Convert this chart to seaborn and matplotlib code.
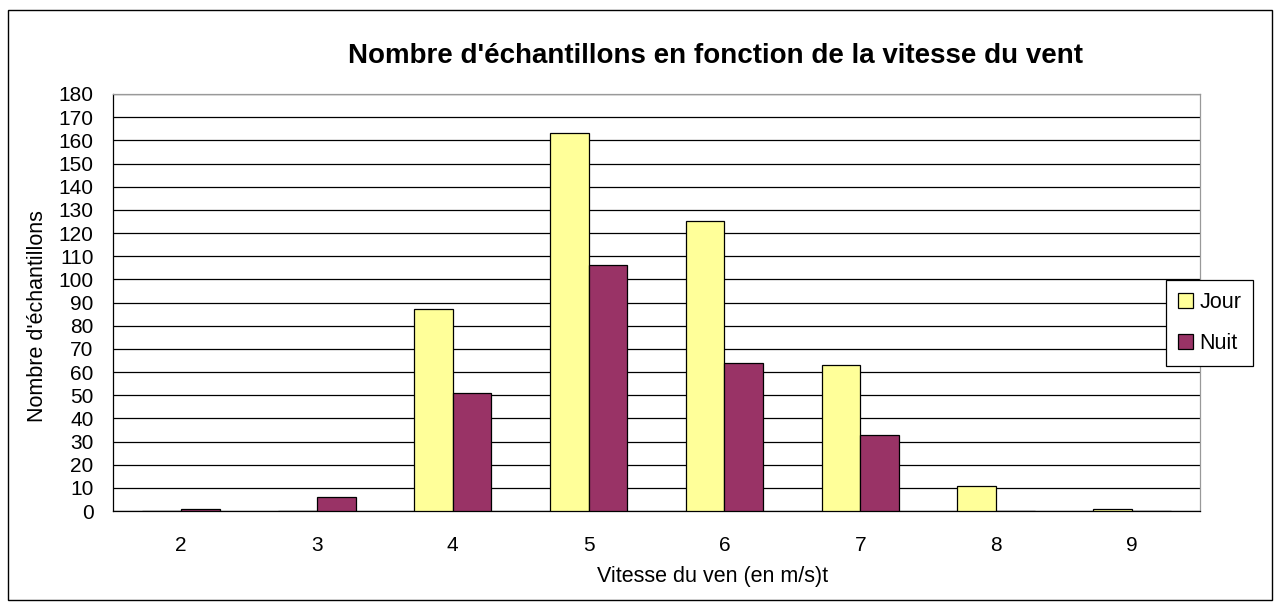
import matplotlib.pyplot as plt
import pandas as pd
import seaborn as sns
from matplotlib.patches import Rectangle

speeds = ["2", "3", "4", "5", "6", "7", "8", "9"]
jour = [0, 0, 87, 163, 125, 63, 11, 1]
nuit = [1, 6, 51, 106, 64, 33, 0, 0]
series = ["Jour", "Nuit"]
colors = ["#FFFF99", "#993366"]

df = pd.DataFrame({
    "vitesse": speeds * 2,
    "n": jour + nuit,
    "serie": ["Jour"] * len(speeds) + ["Nuit"] * len(speeds),
})

sns.set_style("white")
plt.rcParams["font.family"] = ["Liberation Sans", "DejaVu Sans"]
plt.rcParams["text.color"] = "black"
plt.rcParams["axes.labelcolor"] = "black"
plt.rcParams["xtick.color"] = "black"
plt.rcParams["ytick.color"] = "black"

fig = plt.figure(figsize=(12.8, 6.08), dpi=100)
ax = fig.add_axes([0.0883, 0.1595, 0.8492, 0.6859])

sns.barplot(data=df, x="vitesse", y="n", hue="serie", hue_order=series, palette=colors,
            order=speeds, width=0.57, edgecolor="black", linewidth=0.9, saturation=1,
            ax=ax, zorder=3)

ax.set_ylim(0, 180)
ax.set_xlim(-0.5, len(speeds) - 0.5)
ax.set_yticks(range(0, 181, 10))
ax.yaxis.grid(True, color="black", lw=0.9, zorder=0)
ax.set_axisbelow(True)
ax.tick_params(axis="y", direction="inout", length=8, width=0.9, color="black", labelsize=15, pad=10)
ax.tick_params(axis="x", which="major", length=0, labelsize=15, pad=18)
ax.set_xticks([i - 0.5 for i in range(len(speeds) + 1)], minor=True)
ax.tick_params(axis="x", which="minor", direction="out", length=7, width=0.9, color="black")
for s in ["left", "bottom"]:
    ax.spines[s].set_color("black")
    ax.spines[s].set_linewidth(0.9)
for s in ["top", "right"]:
    ax.spines[s].set_color("#999999")
    ax.spines[s].set_linewidth(0.9)

ax.set_xlabel("Vitesse du ven (en m/s)t", fontsize=15.5)
ax.xaxis.set_label_coords(0.552, -0.131)
ax.set_ylabel("Nombre d'échantillons", fontsize=15.5)
ax.yaxis.set_label_coords(-0.06, 0.468)
ax.set_title("Nombre d'échantillons en fonction de la vitesse du vent", fontsize=20,
             fontweight="bold", pad=22, x=0.554)

leg = ax.legend(loc="center left", bbox_to_anchor=(0.9687, 0.451), frameon=True, fancybox=False,
                fontsize=15.5, handlelength=0.7, handleheight=0.7, handletextpad=0.3,
                labelspacing=0.95, borderpad=0.55, borderaxespad=0)
leg.get_frame().set_edgecolor("black")
leg.get_frame().set_linewidth(0.9)
leg.get_frame().set_alpha(1)

fig.patches.append(Rectangle((8 / 1280, 8 / 608), 1264 / 1280, 590 / 608, transform=fig.transFigure,
                             fill=False, edgecolor="black", lw=1))

fig.savefig("out.png", dpi=100)
